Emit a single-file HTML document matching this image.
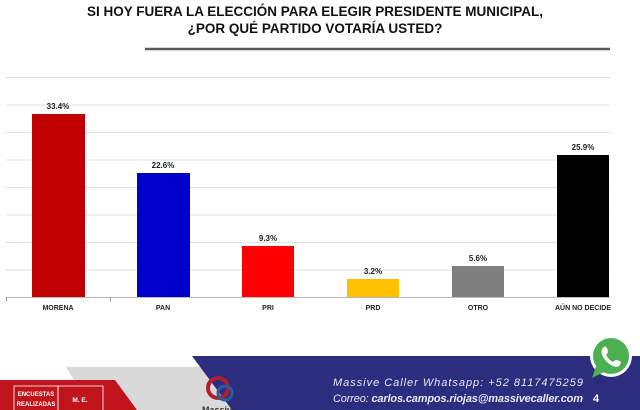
<!DOCTYPE html>
<html><head><meta charset="utf-8"><style>
body{margin:0;width:640px;height:410px;overflow:hidden;background:#fff;font-family:"Liberation Sans",sans-serif;position:relative}
.t{position:absolute;left:0;width:630px;text-align:center;font-weight:bold;font-size:13.5px;color:#111}
</style></head><body>
<div class="t" style="top:4px">SI HOY FUERA LA ELECCIÓN PARA ELEGIR PRESIDENTE MUNICIPAL,</div>
<div class="t" style="top:21px">¿POR QUÉ PARTIDO VOTARÍA USTED?</div>
<svg width="640" height="410" style="position:absolute;left:0;top:0" font-family="Liberation Sans" font-weight="bold">
<line x1="145" y1="49" x2="610" y2="49" stroke="#5a5a5a" stroke-width="2.5"/>
<g stroke="#e0e0e0" stroke-width="1">
<line x1="6" x2="610" y1="77.5" y2="77.5"/><line x1="6" x2="610" y1="105" y2="105"/><line x1="6" x2="610" y1="132.5" y2="132.5"/><line x1="6" x2="610" y1="160" y2="160"/><line x1="6" x2="610" y1="187.5" y2="187.5"/><line x1="6" x2="610" y1="215" y2="215"/><line x1="6" x2="610" y1="242.5" y2="242.5"/><line x1="6" x2="610" y1="270" y2="270"/>
</g>
<line x1="6" x2="610" y1="297.5" y2="297.5" stroke="#bbb"/>
<g stroke="#999"><line x1="6.5" x2="6.5" y1="297" y2="301"/><line x1="110.5" x2="110.5" y1="297" y2="301"/></g>
<rect x="32" y="114" width="53" height="183" fill="#c00000"/>
<rect x="137" y="173" width="53" height="124" fill="#0000cc"/>
<rect x="242" y="246" width="52" height="51" fill="#ff0000"/>
<rect x="347" y="279" width="52" height="18" fill="#ffc000"/>
<rect x="452" y="266" width="52" height="31" fill="#7f7f7f"/>
<rect x="557" y="155" width="52" height="142" fill="#000"/>
<g font-size="8" text-anchor="middle" fill="#222">
<text x="58" y="109">33.4%</text><text x="163" y="168">22.6%</text><text x="268" y="241">9.3%</text><text x="373" y="274">3.2%</text><text x="478" y="261">5.6%</text><text x="583" y="150">25.9%</text>
<text x="58" y="310" font-size="7">MORENA</text><text x="163" y="310" font-size="7">PAN</text><text x="268" y="310" font-size="7">PRI</text><text x="373" y="310" font-size="7">PRD</text><text x="478" y="310" font-size="7">OTRO</text><text x="583" y="310" font-size="7">AÚN NO DECIDE</text>
</g>
<polygon points="66,367 200,367 240,410 92,410" fill="#d9d9d9"/>
<polygon points="0,380 115,380 137,410 0,410" fill="#c0141c"/>
<rect x="14" y="386" width="44" height="26" fill="none" stroke="#fff" stroke-width="0.8"/>
<rect x="58" y="386" width="45" height="26" fill="none" stroke="#fff" stroke-width="0.8"/>
<text x="36" y="396" font-size="6" fill="#fff" text-anchor="middle">ENCUESTAS</text>
<text x="36" y="406" font-size="6" fill="#fff" text-anchor="middle">REALIZADAS</text>
<text x="80" y="402" font-size="6.5" fill="#fff" text-anchor="middle">M. E.</text>
<polygon points="192,356 640,356 640,410 232,410" fill="#2b2d7e"/>
<circle cx="218" cy="388" r="10" fill="none" stroke="#b0202a" stroke-width="4"/>
<circle cx="225" cy="393" r="7" fill="none" stroke="#2a5aa0" stroke-width="3"/>
<text x="202" y="413" font-size="9" fill="#333">Massive</text>
<text x="333" y="386" font-size="11" font-weight="normal" font-style="italic" fill="#e8e8f0" textLength="250">Massive Caller Whatsapp:  +52 8117475259</text>
<text x="333" y="402" font-size="11" font-weight="normal" font-style="italic" fill="#e8e8f0" textLength="250">Correo: <tspan font-weight="bold">carlos.campos.riojas@massivecaller.com</tspan></text>
<text x="593" y="402" font-size="11" fill="#fff">4</text>
<circle cx="611" cy="356" r="21" fill="#fff"/>
<circle cx="611" cy="356" r="18" fill="#4caf50"/>
<polygon points="596,366 592,378 604,372" fill="#4caf50"/>
<path d="M603,348 q2,-3 4,0 l1,4 q-1,2 -2,3 q3,5 7,7 q1,-1 3,-2 l4,1 q2,2 -1,5 q-5,3 -13,-5 q-7,-8 -3,-13z" fill="#fff"/>
</svg>
</body></html>
